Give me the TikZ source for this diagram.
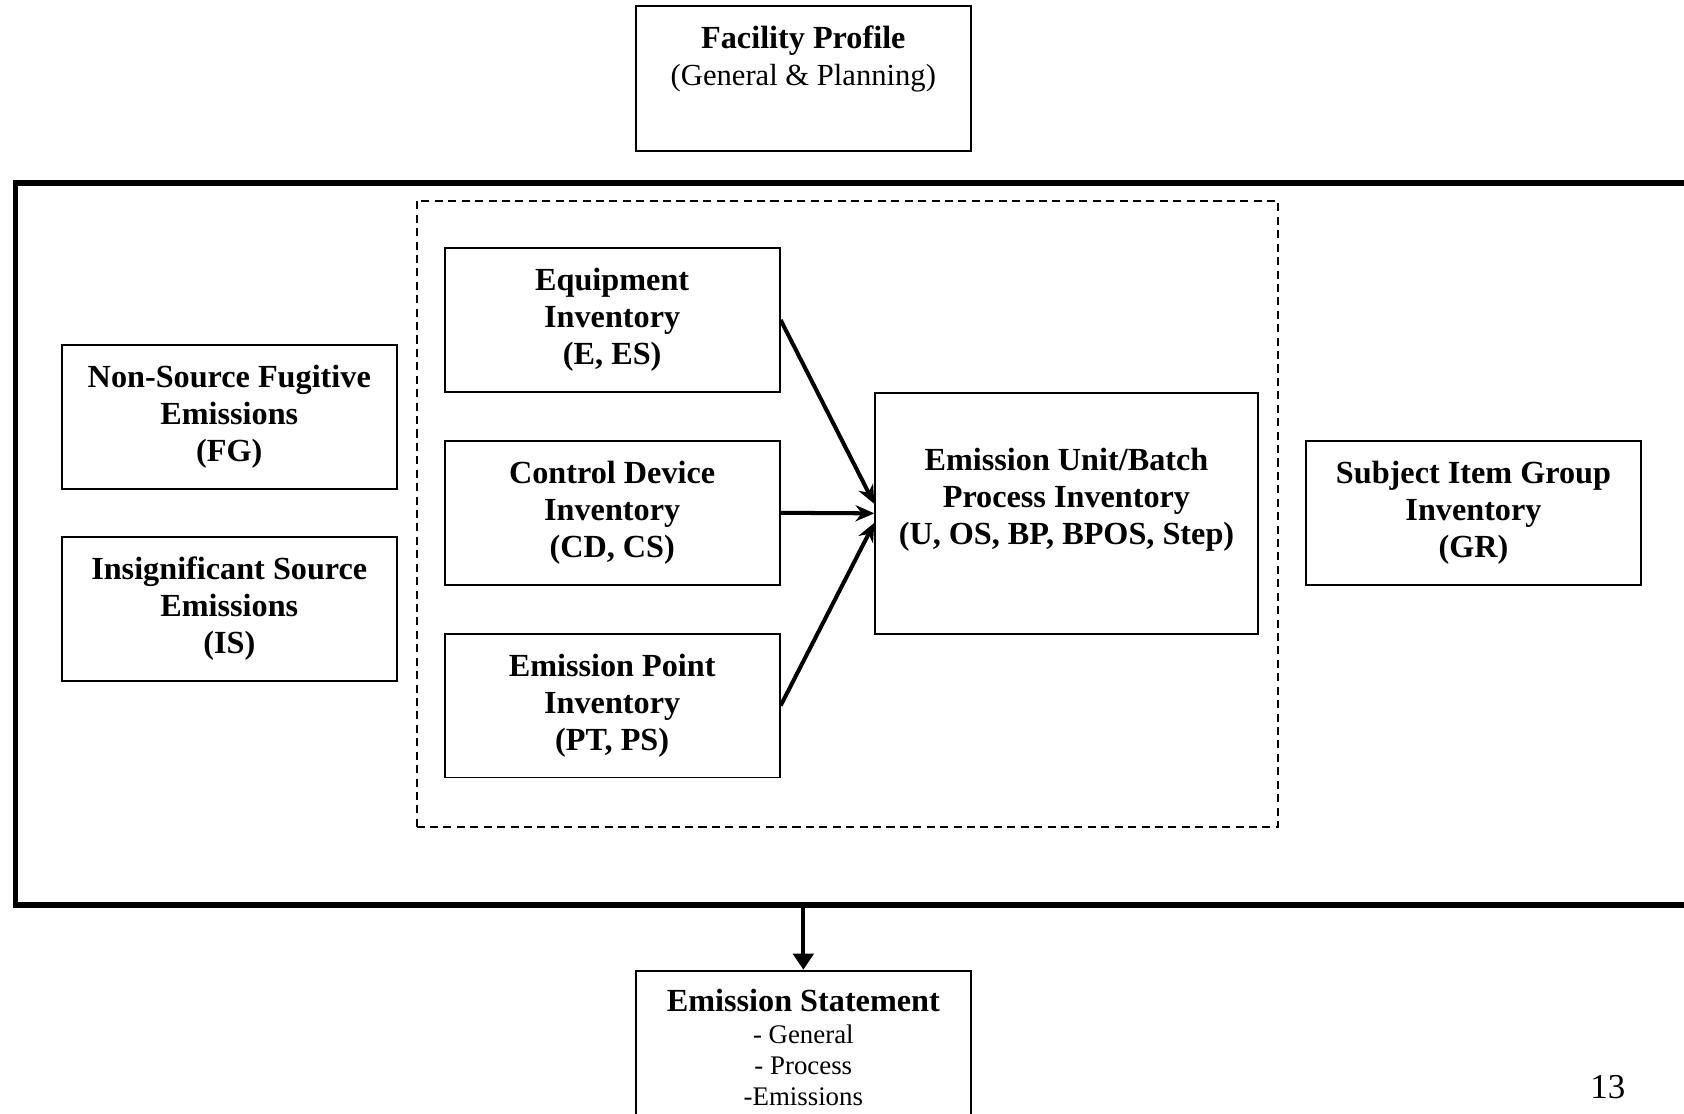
\documentclass[tikz,border=0pt]{standalone}
\usepackage{fontspec}
\setmainfont{Liberation Serif}
\usetikzlibrary{arrows.meta}

\tikzset{
  invbox/.style={draw, line width=0.7pt, minimum width=124.8pt, minimum height=53.6pt,
    align=center, inner sep=2pt, font=\fontsize{12}{13.8}\selectfont\bfseries},
  flow/.style={line width=1.5pt, -{Stealth[length=7pt,width=6pt]}}
}

\begin{document}
\begin{tikzpicture}[x=0.4pt,y=-0.4pt]
  \useasboundingbox (0,0) rectangle (1568,1037);
  \clip (0,0) rectangle (1568,1037);
  % frames
  \node[draw, line width=2pt, minimum width=627.2pt, minimum height=268.8pt, anchor=north west] (frame) at (12,168) {};
  \node[draw, line width=0.7pt, dash pattern=on 3pt off 2pt, minimum width=320.8pt, minimum height=233.2pt, anchor=north west] (group) at (387,186) {};
  % boxes
  \node[invbox, minimum height=54pt, text depth=17.5pt] (facility) at (748,73.5) {Facility Profile\\\mdseries\fontsize{11.4}{13.8}\selectfont(General \& Planning)};
  \node[invbox] (fugitive) at (213.5,388) {Non-Source Fugitive\\Emissions\\(FG)};
  \node[invbox] (insig) at (213.5,567) {Insignificant Source\\Emissions\\(IS)};
  \node[invbox] (equip) at (570,298) {Equipment\\Inventory\\(E, ES)};
  \node[invbox] (ctrl) at (570,477.5) {Control Device\\Inventory\\(CD, CS)};
  \node[invbox] (point) at (570,657) {Emission Point\\Inventory\\(PT, PS)};
  \node[invbox, minimum width=142.4pt, minimum height=89.6pt, text depth=12.6pt] (unit) at (993,478) {Emission Unit/Batch\\Process Inventory\\(U, OS, BP, BPOS, Step)};
  \node[invbox] (itemgrp) at (1372,477.5) {Subject Item Group\\Inventory\\(GR)};
  \node[invbox, anchor=north, inner ysep=7pt, text depth=40pt,
    font=\fontsize{10}{11.6}\selectfont] (stmt) at (748,903)
    {{\fontsize{12}{13.8}\selectfont\bfseries Emission Statement}\\- General\\- Process\\-Emissions};
  \node[font=\fontsize{13}{15}\selectfont] (pagenum) at (1497,1012) {13};
  % arrows
  \draw[flow] (equip.east) -- ([yshift=3.5pt]unit.west);
  \draw[flow] (ctrl.east) -- (unit.west);
  \draw[flow] (point.east) -- ([yshift=-3.5pt]unit.west);
  \draw[line width=1.5pt, -{Triangle[length=6pt,width=7.5pt]}] (frame.south -| stmt.north) -- (stmt.north);
\end{tikzpicture}
\end{document}
